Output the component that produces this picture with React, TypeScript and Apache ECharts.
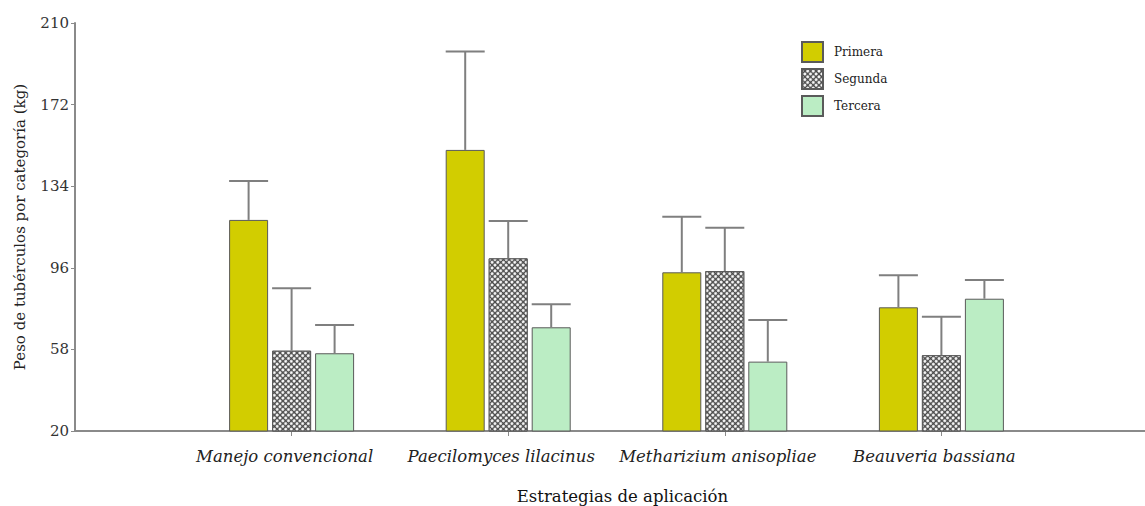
import React, { useEffect, useRef } from "react";
import * as echarts from "echarts";

const categories = ["", "Manejo convencional", "Paecilomyces lilacinus", "Metharizium anisopliae", "Beauveria bassiana", ""];
const seriesNames = ["Primera", "Segunda", "Tercera"];
const primera = [null, 118.3, 150.9, 93.9, 77.6, null];
const segunda = [null, 57.4, 100.4, 94.5, 55.3, null];
const tercera = [null, 56.2, 68.3, 52.3, 81.6, null];
const primeraUpper = [null, 136.4, 196.7, 119.8, 92.5, null];
const segundaUpper = [null, 86.5, 117.8, 114.6, 73.2, null];
const terceraUpper = [null, 69.4, 79.0, 71.7, 90.3, null];
const yTicks = [20, 58, 96, 134, 172, 210];

const FONT = "'DejaVu Serif', 'Liberation Serif', serif";
const BAR_W = 39;
const GAP = 4;

export default function App() {
  const ref = useRef<HTMLDivElement>(null);
  useEffect(() => {
    if (!ref.current) return;
    const chart = echarts.init(ref.current, null, { renderer: "svg" });
    const values = [primera, segunda, tercera];
    const uppers = [primeraUpper, segundaUpper, terceraUpper];
    const colors = ["#d2cd00", "#4a4a4a", "#bbedc4"];
    const barSeries = seriesNames.map((name, i) => ({
      name,
      type: "bar",
      data: values[i],
      barWidth: BAR_W,
      barGap: (GAP / BAR_W) * 100 + "%",
      itemStyle: {
        color: colors[i],
        borderColor: "#5a5a5a",
        borderWidth: 1,
        decal:
          i === 1
            ? {
                symbol: "circle",
                symbolSize: 1,
                color: "#ffffff",
                dashArrayX: [3, 1],
                dashArrayY: [3, 1],
                rotation: Math.PI / 4,
              }
            : "none",
      },
      z: 2,
    }));
    const errSeries = seriesNames.map((name, i) => {
      const offset = (i - 1) * (BAR_W + GAP);
      const data: any[] = [];
      values[i].forEach((v, k) => {
        if (v != null) data.push([k, v, uppers[i][k]]);
      });
      return {
        name: name + "_err",
        type: "custom",
        data,
        encode: { x: 0, y: [1, 2] },
        z: 3,
        renderItem: (params: any, api: any) => {
          const x = api.value(0);
          const p0 = api.coord([x, api.value(1)]);
          const p1 = api.coord([x, api.value(2)]);
          const cx = p0[0] + offset;
          const st = { stroke: "#7f7f7f", lineWidth: 2 };
          return {
            type: "group",
            children: [
              { type: "line", shape: { x1: cx, y1: p0[1], x2: cx, y2: p1[1] }, style: st },
              { type: "line", shape: { x1: cx - BAR_W / 2, y1: p1[1], x2: cx + BAR_W / 2, y2: p1[1] }, style: st },
            ],
          };
        },
      };
    });
    chart.setOption({
      animation: false,
      backgroundColor: "#ffffff",
      textStyle: { fontFamily: FONT },
      grid: { left: 75, right: -13, top: 23, bottom: 75, containLabel: false, outerBoundsMode: "none" },
      legend: {
        data: seriesNames,
        orient: "vertical",
        left: 801,
        top: 41,
        padding: 0,
        itemWidth: 21,
        itemHeight: 20,
        itemGap: 5,
        icon: "rect",
        textStyle: { fontFamily: FONT, fontSize: 12, color: "#222", padding: [0, 0, 0, 6] },
      },
      xAxis: {
        type: "category",
        data: categories,
        boundaryGap: false,
        axisLine: { lineStyle: { color: "#8a8a8a", width: 2 } },
        axisTick: {
          show: true,
          length: 5,
          interval: (idx: number) => idx > 0 && idx < 5,
          lineStyle: { color: "#8a8a8a" },
        },
        axisLabel: {
          interval: 0,
          fontFamily: FONT,
          fontStyle: "italic",
          fontSize: 16.5,
          color: "#222",
          margin: 17,
          padding: [0, 14, 0, 0],
        },
        name: "Estrategias de aplicación",
        nameLocation: "middle",
        nameGap: 57,
        nameTextStyle: { fontFamily: FONT, fontSize: 16.5, color: "#111", padding: [0, 0, 0, 12] },
        splitLine: { show: false },
      },
      yAxis: {
        type: "value",
        min: 20,
        max: 210,
        axisLine: { show: true, lineStyle: { color: "#8a8a8a", width: 2 } },
        axisTick: { show: true, length: 4, customValues: yTicks, lineStyle: { color: "#8a8a8a" } },
        axisLabel: { customValues: yTicks, fontFamily: FONT, fontSize: 15, color: "#333", margin: 6 },
        splitLine: { show: false },
        name: "Peso de tubérculos por categoría (kg)",
        nameLocation: "middle",
        nameGap: 48,
        nameTextStyle: { fontFamily: FONT, fontSize: 15, color: "#222", padding: [0, 0, 0, 0] },
      },
      series: [...barSeries, ...errSeries],
    });
    return () => chart.dispose();
  }, []);
  return (
    <div
      ref={ref}
      style={{ position: "fixed", left: 0, top: 0, width: 1145, height: 506 }}
    />
  );
}
